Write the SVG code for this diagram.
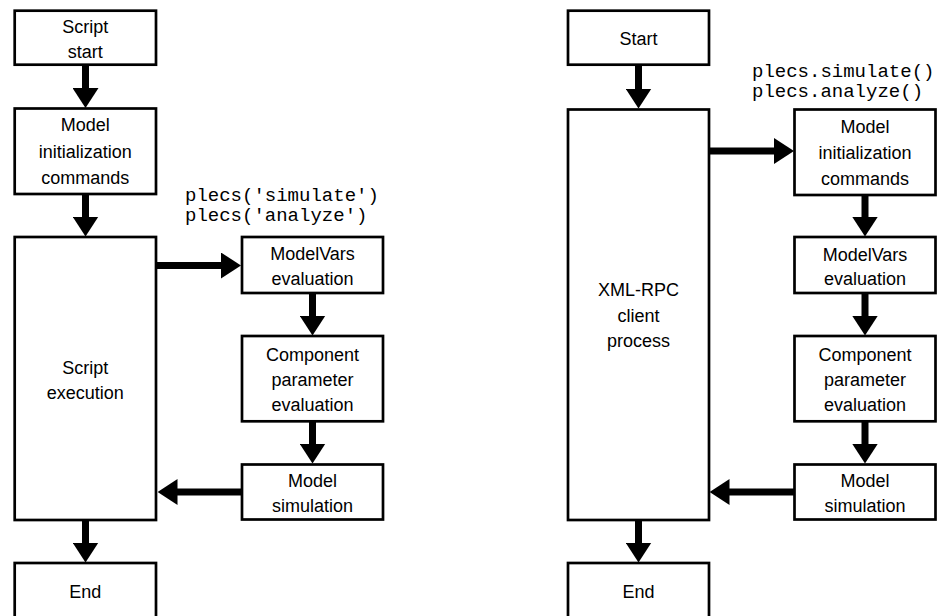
<svg xmlns="http://www.w3.org/2000/svg" width="946" height="616" viewBox="0 0 946 616">
<style>
.box{fill:#fff;stroke:#000;stroke-width:2.7}
.t{font-family:"Liberation Sans",Arial,sans-serif;font-size:18px;fill:#000;text-anchor:middle}
.code{font-family:"Liberation Mono","Courier New",monospace;font-size:19px;fill:#000}
.c{stroke:#000;stroke-width:7;fill:none;marker-end:url(#ah)}
</style>
<defs>
<marker id="ah" markerUnits="userSpaceOnUse" viewBox="0 0 20 26" markerWidth="20" markerHeight="26" refX="0.5" refY="13" orient="auto">
<path d="M0,0 L20,13 L0,26 z" fill="#000"/>
</marker>
</defs>
<rect width="946" height="616" fill="#fff"/>

<g id="connectors">
<line class="c" x1="85.5" y1="65" x2="85.5" y2="88.5"/>
<line class="c" x1="85.5" y1="194" x2="85.5" y2="217"/>
<line class="c" x1="85.5" y1="520" x2="85.5" y2="543"/>
<line class="c" x1="156" y1="265.5" x2="221.5" y2="265.5"/>
<line class="c" x1="312.5" y1="293" x2="312.5" y2="316"/>
<line class="c" x1="312.5" y1="421" x2="312.5" y2="444"/>
<line class="c" x1="241.5" y1="492" x2="177" y2="492"/>

<line class="c" x1="638.5" y1="65" x2="638.5" y2="89"/>
<line class="c" x1="638.5" y1="520" x2="638.5" y2="543"/>
<line class="c" x1="709" y1="151" x2="774.5" y2="151"/>
<line class="c" x1="865" y1="195" x2="865" y2="217"/>
<line class="c" x1="865" y1="293" x2="865" y2="316"/>
<line class="c" x1="865" y1="421" x2="865" y2="444"/>
<line class="c" x1="794.5" y1="492" x2="729" y2="492"/>
</g>

<g id="left-start">
<rect class="box" x="14.7" y="10.7" width="141.3" height="54"/>
<text class="t" x="85.3" y="33">Script</text>
<text class="t" x="85.3" y="58">start</text>
</g>
<g id="left-init">
<rect class="box" x="14.7" y="108.5" width="141.3" height="85.5"/>
<text class="t" x="85.3" y="131">Model</text>
<text class="t" x="85.3" y="157.5">initialization</text>
<text class="t" x="85.3" y="184">commands</text>
</g>
<g id="left-exec">
<rect class="box" x="14.7" y="237" width="141.3" height="283"/>
<text class="t" x="85.3" y="373.5">Script</text>
<text class="t" x="85.3" y="398.5">execution</text>
</g>
<g id="left-end">
<rect class="box" x="14.7" y="563" width="141.3" height="60"/>
<text class="t" x="85.3" y="598">End</text>
</g>
<g id="left-code">
<text class="code" x="185" y="201">plecs('simulate')</text>
<text class="code" x="185" y="221">plecs('analyze')</text>
</g>
<g id="left-modelvars">
<rect class="box" x="242" y="237" width="141" height="56"/>
<text class="t" x="312.5" y="260">ModelVars</text>
<text class="t" x="312.5" y="284.5">evaluation</text>
</g>
<g id="left-component">
<rect class="box" x="242" y="336" width="141" height="85.3"/>
<text class="t" x="312.5" y="360.5">Component</text>
<text class="t" x="312.5" y="386">parameter</text>
<text class="t" x="312.5" y="411">evaluation</text>
</g>
<g id="left-sim">
<rect class="box" x="242" y="464.5" width="141" height="55"/>
<text class="t" x="312.5" y="487">Model</text>
<text class="t" x="312.5" y="511.5">simulation</text>
</g>

<g id="right-start">
<rect class="box" x="568" y="10.7" width="141" height="54"/>
<text class="t" x="638.5" y="44.5">Start</text>
</g>
<g id="right-client">
<rect class="box" x="568" y="109.5" width="141" height="410.5"/>
<text class="t" x="638.5" y="295.5">XML-RPC</text>
<text class="t" x="638.5" y="321.5">client</text>
<text class="t" x="638.5" y="346.5">process</text>
</g>
<g id="right-end">
<rect class="box" x="568" y="563" width="141" height="60"/>
<text class="t" x="638.5" y="598">End</text>
</g>
<g id="right-code">
<text class="code" x="752" y="77">plecs.simulate()</text>
<text class="code" x="752" y="97">plecs.analyze()</text>
</g>
<g id="right-init">
<rect class="box" x="794.5" y="109.5" width="141" height="85.5"/>
<text class="t" x="865" y="132.5">Model</text>
<text class="t" x="865" y="159">initialization</text>
<text class="t" x="865" y="184.5">commands</text>
</g>
<g id="right-modelvars">
<rect class="box" x="794.5" y="237" width="141" height="56"/>
<text class="t" x="865" y="260.5">ModelVars</text>
<text class="t" x="865" y="285">evaluation</text>
</g>
<g id="right-component">
<rect class="box" x="794.5" y="336" width="141" height="85.3"/>
<text class="t" x="865" y="360.5">Component</text>
<text class="t" x="865" y="386">parameter</text>
<text class="t" x="865" y="411">evaluation</text>
</g>
<g id="right-sim">
<rect class="box" x="794.5" y="464.5" width="141" height="55"/>
<text class="t" x="865" y="486.5">Model</text>
<text class="t" x="865" y="511.5">simulation</text>
</g>
</svg>
